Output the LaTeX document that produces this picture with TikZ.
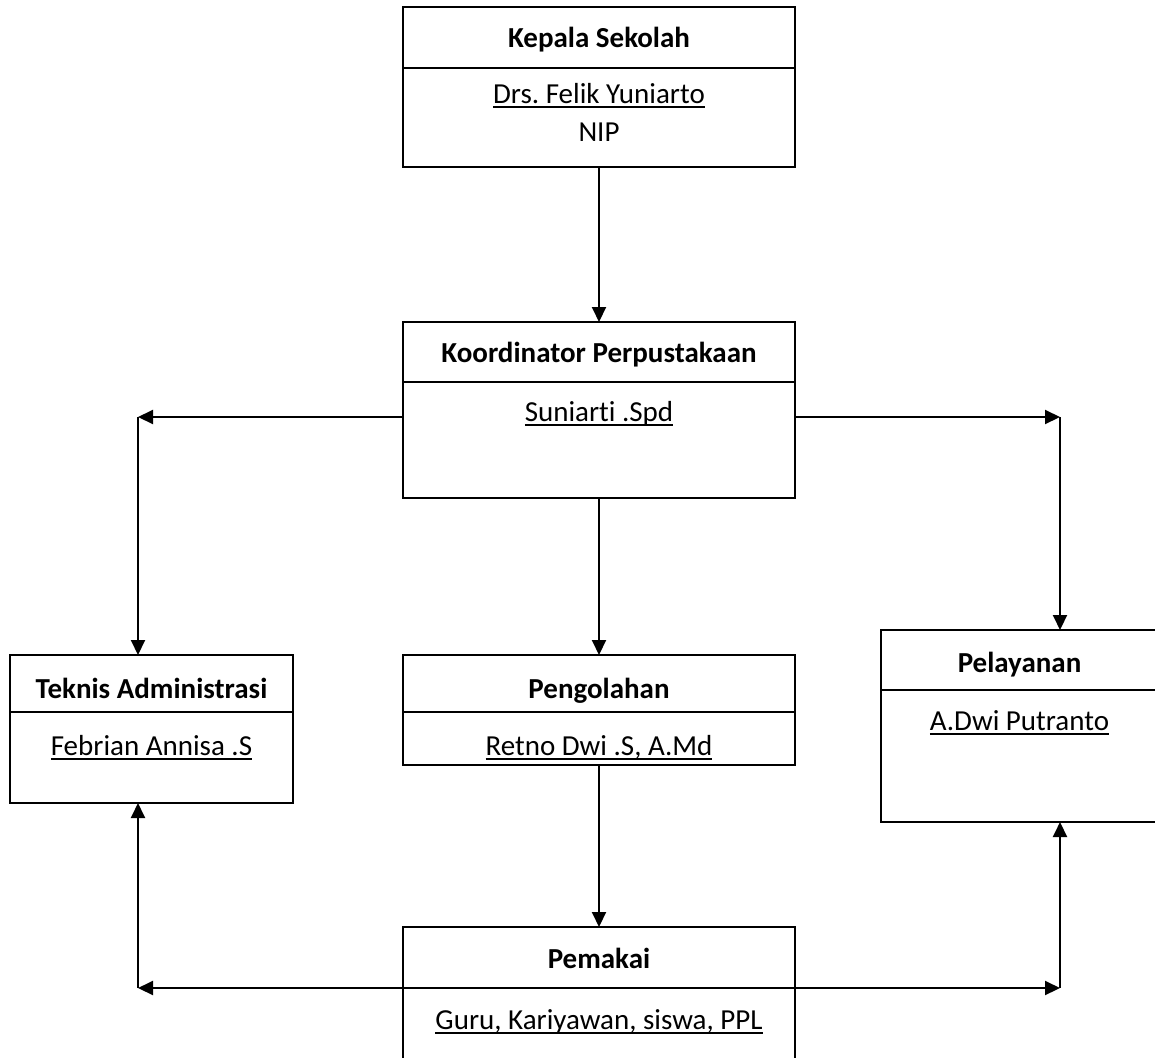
\documentclass[tikz,border=0pt]{standalone}
\usepackage{fontspec}
\setmainfont{Carlito}[Ligatures=NoCommon]
\usetikzlibrary{arrows.meta}
\frenchspacing
\newcommand\myul[1]{\setbox0\hbox{#1}\rlap{\rule[-5pt]{\wd0}{1.8pt}}\box0}
\begin{document}
\begin{tikzpicture}[x=1pt,y=-1pt,
  box/.style={draw,line width=2pt,rectangle,inner sep=0pt,outer sep=0pt},
  ttl/.style={font=\fontsize{29}{34}\selectfont\bfseries,anchor=base,inner sep=0pt},
  nm/.style={font=\fontsize{29}{34}\selectfont,anchor=base,inner sep=0pt},
  con/.style={line width=2pt,-{Triangle[length=15pt,width=14pt]}},
  ln/.style={line width=2pt}]
\useasboundingbox (0,0) rectangle (1155,1057);
\clip (0,0) rectangle (1155,1057);
% boxes
\node[box,minimum width=392pt,minimum height=160pt] (ks) at (599,87) {};
\node[box,minimum width=392pt,minimum height=176pt] (kp) at (599,410) {};
\node[box,minimum width=283pt,minimum height=148pt] (ta) at (151.5,729) {};
\node[box,minimum width=392pt,minimum height=110pt] (pg) at (599,710) {};
\node[box,minimum width=277pt,minimum height=192pt] (pl) at (1019.5,726) {};
\node[box,minimum width=392pt,minimum height=153pt] (pm) at (599,1003.5) {};
% dividers
\draw[ln] (ks.west |- 0,68) -- (ks.east |- 0,68);
\draw[ln] (kp.west |- 0,382) -- (kp.east |- 0,382);
\draw[ln] (ta.west |- 0,712) -- (ta.east |- 0,712);
\draw[ln] (pg.west |- 0,712) -- (pg.east |- 0,712);
\draw[ln] (pl.west |- 0,690) -- (pl.east |- 0,690);
% texts
\node[ttl] (ks1) at (599,48) {Kepala Sekolah};
\node[nm] (ks2) at (599,103) {\myul{Drs. Felik Yuniarto}};
\node[nm] (ks3) at (599,141) {NIP};
\node[ttl] (kp1) at (599,362) {Koordinator Perpustakaan};
\node[nm] (kp2) at (599,421) {\myul{Suniarti .Spd}};
\node[ttl] (ta1) at (151.5,698) {Teknis Administrasi};
\node[nm] (ta2) at (151.5,755) {\myul{Febrian Annisa .S}};
\node[ttl] (pg1) at (599,698) {Pengolahan};
\node[nm] (pg2) at (599,755) {\myul{Retno Dwi .S, A.Md}};
\node[ttl] (pl1) at (1019.5,672) {Pelayanan};
\node[nm] (pl2) at (1019.5,730) {\myul{A.Dwi Putranto}};
\node[ttl] (pm1) at (599,968) {Pemakai};
\node[nm] (pm2) at (599,1029) {\myul{Guru, Kariyawan, siswa, PPL}};
% connector corners
\coordinate (cl) at (138,417);
\coordinate (cr) at (1060,417);
\coordinate (bl) at (138,988);
\coordinate (br) at (1060,988);
% connectors
\draw[con] (ks.south) -- (kp.north);
\draw[con] (kp.south) -- (pg.north);
\draw[con] (pg.south) -- (pm.north);
\draw[con] (kp.west |- cl) -- (cl);
\draw[con] (cl) -- (cl |- ta.north);
\draw[con] (kp.east |- cr) -- (cr);
\draw[con] (cr) -- (cr |- pl.north);
\draw[ln] (pm.west |- bl) -- (pm.east |- br);
\draw[con] (pm.west |- bl) -- (bl);
\draw[con] (bl) -- (bl |- ta.south);
\draw[con] (pm.east |- br) -- (br);
\draw[con] (br) -- (br |- pl.south);
\end{tikzpicture}
\end{document}
